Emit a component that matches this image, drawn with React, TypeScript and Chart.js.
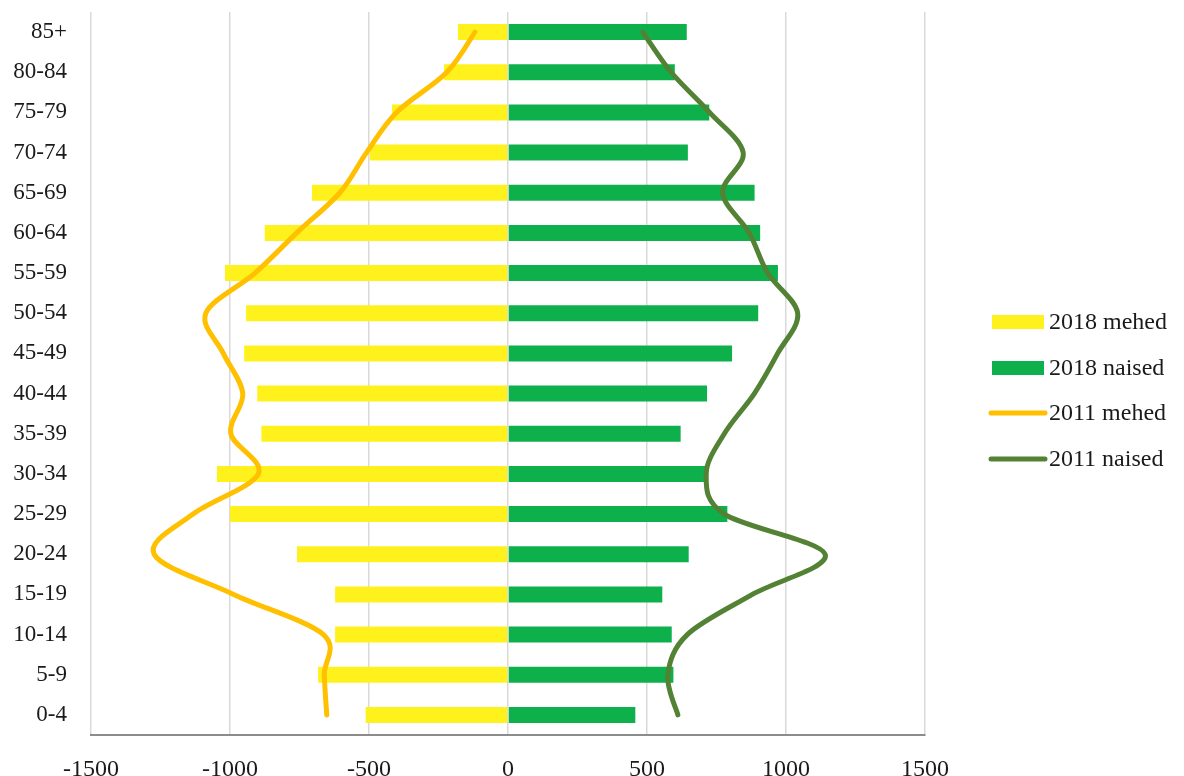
import { useEffect, useRef } from 'react';
import { Chart, registerables } from 'chart.js';

Chart.register(...registerables);

const categories = ['0-4', '5-9', '10-14', '15-19', '20-24', '25-29', '30-34', '35-39', '40-44', '45-49', '50-54', '55-59', '60-64', '65-69', '70-74', '75-79', '80-84', '85+'];

const men2018 = [-512, -683, -622, -622, -759, -1000, -1047, -887, -902, -949, -942, -1018, -875, -705, -497, -417, -230, -180];
const women2018 = [458, 595, 589, 555, 650, 789, 709, 621, 716, 806, 900, 971, 907, 887, 647, 724, 600, 643];
const men2011 = [-652, -661, -664, -987, -1273, -1133, -898, -997, -954, -1024, -1087, -910, -760, -605, -509, -401, -220, -119];
const women2011 = [611, 575, 645, 879, 1141, 778, 713, 778, 886, 970, 1042, 934, 868, 772, 846, 725, 587, 485];

const seriesNames = ['2018 mehed', '2018 naised', '2011 mehed', '2011 naised'];
const xMin = -1500;
const xMax = 1500;
const xStep = 500;

const FONT = '"Liberation Serif", "Times New Roman", serif';

// Excel-like smoothing: uniform Catmull-Rom control points on the library's own point elements
const smoothPlugin = {
  id: 'excelSmooth',
  beforeDatasetDraw(chart: any, args: any) {
    const meta = chart.getDatasetMeta(args.index);
    if (meta.type !== 'line' || !meta.dataset) return;
    const line = meta.dataset;
    if (line.updateControlPoints) line.updateControlPoints(chart.chartArea, 'y');
    const pts = line.points || meta.data;
    const n = pts.length;
    const t = 1 / 6;
    for (let i = 0; i < n; i++) {
      const p = pts[i];
      const prev = pts[Math.max(0, i - 1)];
      const next = pts[Math.min(n - 1, i + 1)];
      const dx = (next.x - prev.x) * t;
      const dy = (next.y - prev.y) * t;
      p.cp1x = p.x - dx;
      p.cp1y = p.y - dy;
      p.cp2x = p.x + dx;
      p.cp2y = p.y + dy;
    }
    line._pointsUpdated = true;
    line._path = undefined;
  },
};

const legendPlugin = {
  id: 'sideLegend',
  afterDraw(chart: any) {
    const ctx = chart.ctx as CanvasRenderingContext2D;
    const area = chart.chartArea;
    const x0 = area.right + 67;
    const ys = [322, 368, 413, 459];
    ctx.save();
    ctx.font = `24px ${FONT}`;
    ctx.textBaseline = 'middle';
    ctx.textAlign = 'left';
    chart.data.datasets.forEach((ds: any, i: number) => {
      const y = ys[i];
      if (ds.type === 'line') {
        ctx.strokeStyle = ds.borderColor;
        ctx.lineWidth = 5;
        ctx.lineCap = 'round';
        ctx.beginPath();
        ctx.moveTo(x0 - 1, y);
        ctx.lineTo(x0 + 53, y);
        ctx.stroke();
      } else {
        ctx.fillStyle = ds.backgroundColor;
        ctx.fillRect(x0, y - 7, 52, 14);
      }
      ctx.fillStyle = '#1a1a1a';
      ctx.fillText(ds.label, x0 + 57, y + 1);
    });
    ctx.restore();
  },
};

export default function App() {
  const ref = useRef<HTMLCanvasElement | null>(null);

  useEffect(() => {
    if (!ref.current) return;
    const chart = new Chart(ref.current, {
      type: 'bar',
      data: {
        labels: categories,
        datasets: [
          {
            type: 'bar',
            label: seriesNames[0],
            data: men2018,
            backgroundColor: '#FFF21C',
            grouped: false,
            barPercentage: 0.4,
            categoryPercentage: 1,
            order: 3,
          } as any,
          {
            type: 'bar',
            label: seriesNames[1],
            data: women2018,
            backgroundColor: '#0EB04C',
            grouped: false,
            barPercentage: 0.4,
            categoryPercentage: 1,
            order: 3,
          } as any,
          {
            type: 'line',
            label: seriesNames[2],
            data: men2011,
            borderColor: '#FFC000',
            backgroundColor: '#FFC000',
            borderWidth: 5,
            tension: 0.4,
            pointRadius: 0,
            borderCapStyle: 'round',
            borderJoinStyle: 'round',
            indexAxis: 'y',
            order: 1,
          } as any,
          {
            type: 'line',
            label: seriesNames[3],
            data: women2011,
            borderColor: '#548235',
            backgroundColor: '#548235',
            borderWidth: 5,
            tension: 0.4,
            pointRadius: 0,
            borderCapStyle: 'round',
            borderJoinStyle: 'round',
            indexAxis: 'y',
            order: 1,
          } as any,
        ],
      },
      options: {
        indexAxis: 'y',
        animation: false,
        responsive: true,
        maintainAspectRatio: false,
        events: [],
        layout: { padding: { top: 12, right: 259, left: 0, bottom: 0 } },
        plugins: {
          legend: { display: false },
          tooltip: { enabled: false },
        },
        scales: {
          x: {
            type: 'linear',
            min: xMin,
            max: xMax,
            ticks: {
              stepSize: xStep,
              padding: 20,
              color: '#1a1a1a',
              font: { family: FONT, size: 24 },
              callback: (v: any) => String(v),
            },
            grid: { color: '#D9D9D9', lineWidth: 1.5, drawTicks: false },
            border: { display: true, color: '#8C8C8C', width: 2 },
            afterFit: (s: any) => {
              s.height = 41;
            },
          },
          y: {
            type: 'category',
            reverse: true,
            ticks: {
              padding: 24,
              color: '#1a1a1a',
              font: { family: FONT, size: 23 },
              autoSkip: false,
            },
            grid: { display: false, drawTicks: false },
            border: { display: false },
            afterFit: (s: any) => {
              s.width = 91;
              s.paddingTop = 0;
              s.paddingBottom = 0;
            },
          },
        },
      } as any,
      plugins: [smoothPlugin, legendPlugin],
    });
    return () => chart.destroy();
  }, []);

  return (
    <div style={{ position: 'absolute', left: 0, top: 0, width: 1184, height: 776, background: '#fff' }}>
      <canvas ref={ref} />
    </div>
  );
}
